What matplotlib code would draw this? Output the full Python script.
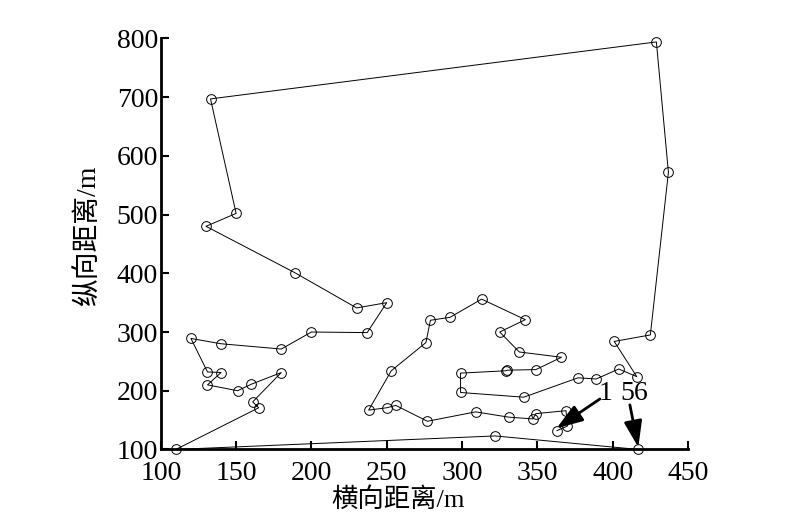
import numpy as np
import matplotlib.pyplot as plt

# tour order, point 1 .. point 56
xs = [363, 370, 369, 349, 347, 331, 309, 277, 256, 250, 238, 253, 276, 279,
      292, 313, 342, 325, 338, 366, 349, 330, 329, 299, 299, 341, 377, 389,
      404, 416, 401, 425, 437, 429, 133, 150, 130, 189, 230, 250, 237, 200,
      180, 140, 120, 131, 140, 131, 151, 160, 180, 161, 165, 110, 322, 417]
ys = [132, 140, 166, 161, 152, 155, 164, 148, 175, 171, 167, 234, 282, 320,
      325, 356, 321, 300, 266, 257, 236, 235, 234, 230, 197, 189, 222, 220,
      237, 224, 284, 295, 572, 794, 697, 502, 480, 401, 341, 350, 299, 300,
      271, 280, 289, 232, 231, 210, 200, 211, 231, 181, 171, 100, 123, 100]

xticks = [100, 150, 200, 250, 300, 350, 400, 450]
yticks = [100, 200, 300, 400, 500, 600, 700, 800]

fonts = ['Liberation Serif', 'Noto Sans CJK SC']
plt.rcParams['font.family'] = fonts

fig = plt.figure(figsize=(8, 5.19), dpi=100)
ax = fig.add_axes([0.201, 0.134, 0.659, 0.792])

ax.plot(xs, ys, '-', color='black', linewidth=0.7, zorder=2, clip_on=False)
ax.plot(xs, ys, 'o', markersize=7, markerfacecolor='none',
        markeredgecolor='black', markeredgewidth=0.7, zorder=3, clip_on=False)

ax.set_xlim(100, 450)
ax.set_ylim(100, 800)
ax.set_xticks(xticks)
ax.set_yticks(yticks)
ax.tick_params(direction='in', length=6, width=1.5, labelsize=20)
ax.tick_params(axis='x', pad=8)
ax.tick_params(axis='y', pad=2)

for side in ['top', 'right']:
    ax.spines[side].set_visible(False)
for side in ['left', 'bottom']:
    ax.spines[side].set_linewidth(2)

ax.set_xlabel('横向距离/m', fontsize=19)
ax.xaxis.set_label_coords(0.45, -0.092)
ax.set_ylabel('纵向距离/m', fontsize=20)
ax.yaxis.set_label_coords(-0.112, 0.52)

arrow = dict(arrowstyle='-|>,head_length=1.6,head_width=0.55',
             color='black', lw=2, shrinkA=0, shrinkB=0)
ax.annotate('', xy=(362.7, 136), xytext=(391.5, 186),
            annotation_clip=False, arrowprops=arrow)
ax.annotate('', xy=(417, 103.7), xytext=(411.4, 176),
            annotation_clip=False, arrowprops=arrow)
ax.text(395.5, 196, '1', fontsize=20, ha='center', va='center')
ax.text(414, 196, '56', fontsize=20, ha='center', va='center')

fig.savefig('out.png', dpi=100)
